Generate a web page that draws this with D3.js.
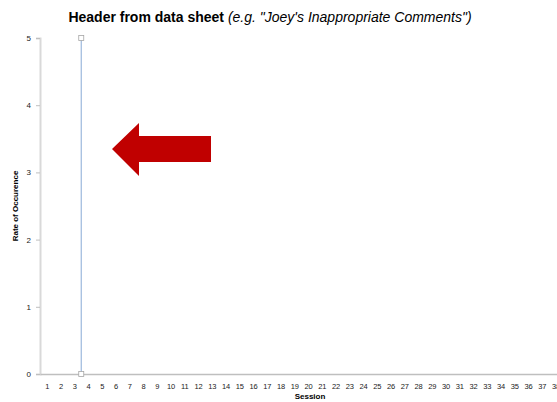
<!DOCTYPE html>
<html>
<head>
<meta charset="utf-8">
<script src="https://cdn.jsdelivr.net/npm/d3@7"></script>
<style>
  body { margin: 0; background: #fff; }
  text { font-family: "Liberation Sans", Arial, sans-serif; }
</style>
</head>
<body>
<script>
// donnees du graphique
var sessions = d3.range(1, 40);           // 1 .. 39
var yTicks = [0, 1, 2, 3, 4, 5];
var phaseX = [3.5, 3.5];                  // ligne de changement de phase
var phaseY = [0, 5];

var W = 557, H = 402;
var margin = {top: 38, left: 40, bottom: 28};
var plotH = H - margin.top - margin.bottom;   // 336

var svg = d3.select("body").append("svg")
            .attr("width", W)
            .attr("height", H);

var x = d3.scaleLinear()
          .domain([0.5, 39.5])
          .range([margin.left, margin.left + 39 * 13.75]);
var y = d3.scaleLinear()
          .domain([0, 5])
          .range([margin.top + plotH, margin.top]);

// titre
var title = svg.append("text")
   .attr("x", 270).attr("y", 22)
   .attr("text-anchor", "middle")
   .style("font-size", "14px")
   .style("fill", "#000");
title.append("tspan").style("font-weight", "bold").text("Header from data sheet ");
title.append("tspan").style("font-style", "italic").text("(e.g. \"Joey's Inappropriate Comments\")");

// axe Y
var axeY = d3.axisLeft(y).tickValues(yTicks).tickFormat(d3.format("d")).tickSize(4).tickPadding(5);
var gY = svg.append("g")
   .attr("transform", "translate(" + margin.left + ",0)")
   .call(axeY);
gY.select(".domain").attr("stroke", "#d9d9d9").attr("stroke-width", 2);
gY.selectAll(".tick line").attr("stroke", "#bfbfbf");
gY.selectAll("text").style("font-size", "8px").attr("fill", "#222");

// axe X
var axeX = d3.axisBottom(x).tickValues(sessions).tickFormat(d3.format("d")).tickSize(0).tickPadding(10);
var gX = svg.append("g")
   .attr("transform", "translate(0," + y(0) + ")")
   .call(axeX);
gX.select(".domain").attr("stroke", "#bfbfbf").attr("stroke-width", 1.5);
gX.selectAll("text").style("font-size", "7.5px").attr("fill", "#222");

// titres des axes
svg.append("text")
   .attr("x", 310).attr("y", 399)
   .attr("text-anchor", "middle")
   .style("font-size", "8px").style("font-weight", "bold")
   .text("Session");
svg.append("text")
   .attr("transform", "translate(18," + (margin.top + plotH / 2) + ") rotate(-90)")
   .attr("text-anchor", "middle")
   .style("font-size", "8px").style("font-weight", "bold")
   .text("Rate of Occurence");

// ligne de phase
var pts = phaseX.map(function(d, i) { return [d, phaseY[i]]; });
svg.append("path")
   .attr("d", d3.line().x(function(d) { return x(d[0]); }).y(function(d) { return y(d[1]); })(pts))
   .attr("fill", "none")
   .attr("stroke", "#9bb7dc")
   .attr("stroke-width", 1.2);
svg.selectAll(".pt").data(pts).enter().append("rect")
   .attr("class", "pt")
   .attr("x", function(d) { return x(d[0]) - 2.5; })
   .attr("y", function(d) { return y(d[1]) - 2.5; })
   .attr("width", 5).attr("height", 5)
   .attr("fill", "#fff")
   .attr("stroke", "#a6a6a6")
   .attr("stroke-width", 0.8);

// fleche rouge
svg.append("path")
   .attr("d", "M112,149 L139,123 L139,136 L211,136 L211,162 L139,162 L139,176 Z")
   .attr("fill", "#c00000");
</script>
</body>
</html>
